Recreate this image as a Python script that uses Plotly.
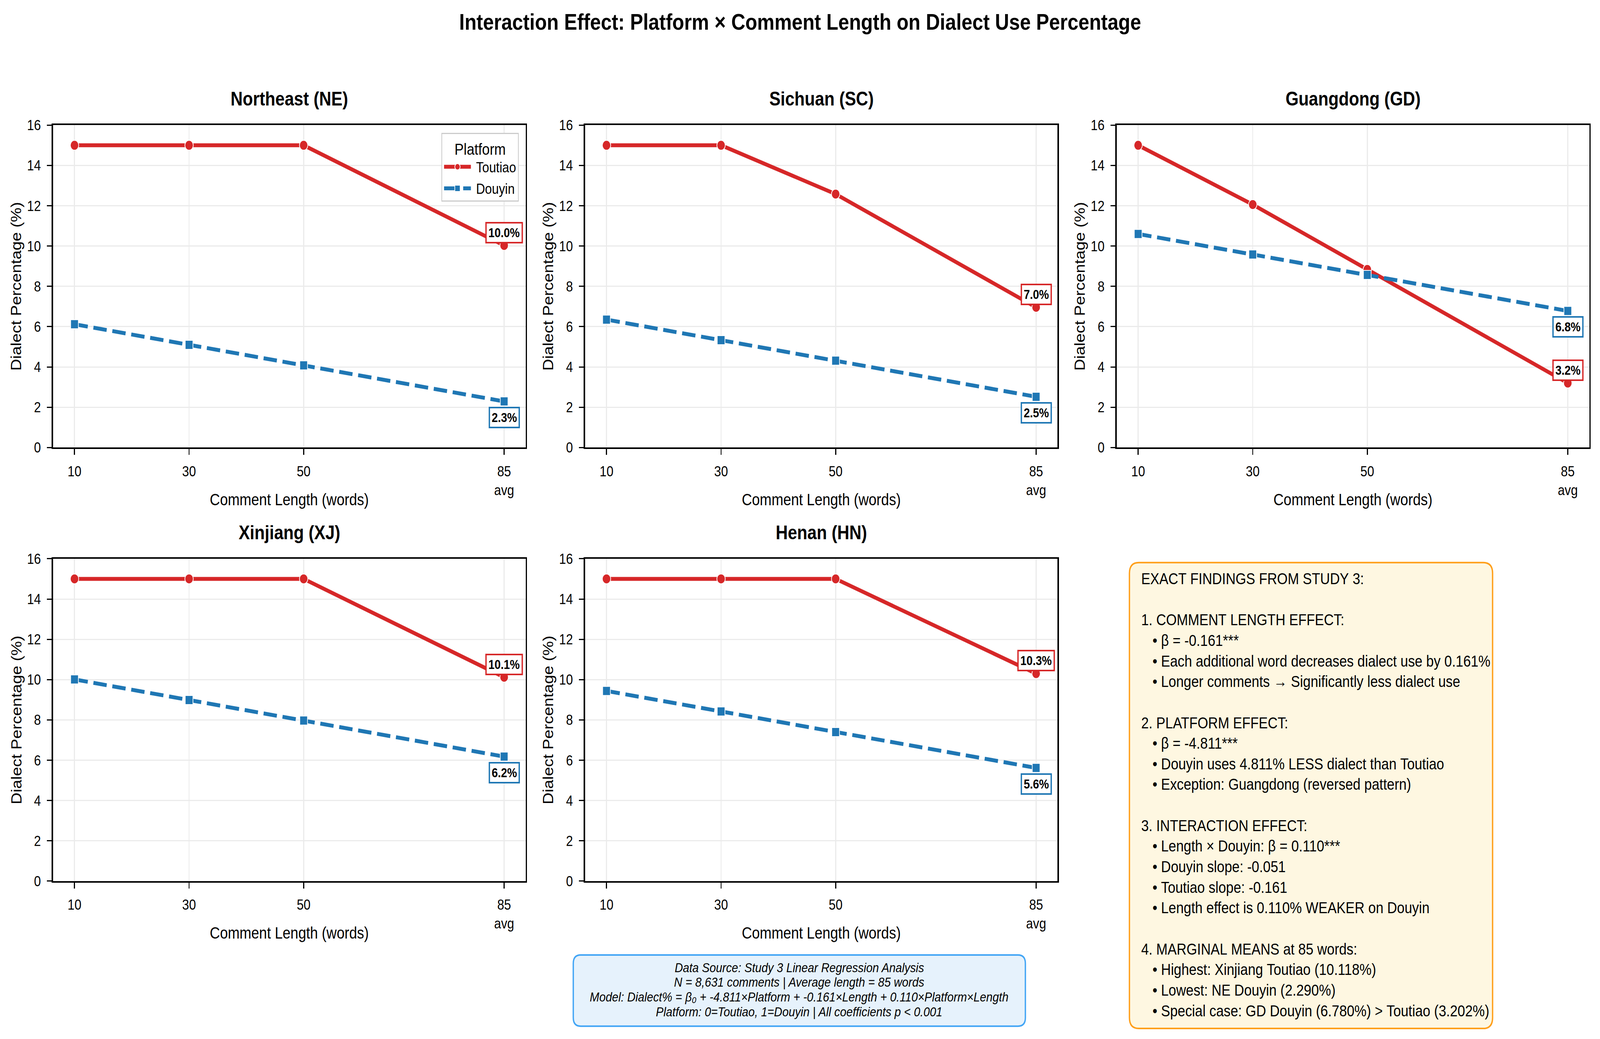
import plotly.graph_objects as go

# Study 3 marginal means
lengths = [10, 30, 50, 85]
tick_text = ["10", "30", "50", "85<br>avg"]
regions = ["Northeast (NE)", "Sichuan (SC)", "Guangdong (GD)", "Xinjiang (XJ)", "Henan (HN)"]

ne_toutiao = [15, 15, 15, 10.03]
ne_douyin = [6.12, 5.10, 4.08, 2.29]
sc_toutiao = [15, 15, 12.58, 6.96]
sc_douyin = [6.35, 5.33, 4.31, 2.52]
gd_toutiao = [15, 12.06, 8.84, 3.20]
gd_douyin = [10.60, 9.58, 8.57, 6.78]
xj_toutiao = [15, 15, 15, 10.12]
xj_douyin = [10.01, 8.99, 7.97, 6.18]
hn_toutiao = [15, 15, 15, 10.30]
hn_douyin = [9.44, 8.42, 7.40, 5.62]

toutiao_all = [ne_toutiao, sc_toutiao, gd_toutiao, xj_toutiao, hn_toutiao]
douyin_all = [ne_douyin, sc_douyin, gd_douyin, xj_douyin, hn_douyin]

findings = [
    "EXACT FINDINGS FROM STUDY 3:",
    "",
    "1. COMMENT LENGTH EFFECT:",
    "   • β = -0.161***",
    "   • Each additional word decreases dialect use by 0.161%",
    "   • Longer comments → Significantly less dialect use",
    "",
    "2. PLATFORM EFFECT:",
    "   • β = -4.811***",
    "   • Douyin uses 4.811% LESS dialect than Toutiao",
    "   • Exception: Guangdong (reversed pattern)",
    "",
    "3. INTERACTION EFFECT:",
    "   • Length × Douyin: β = 0.110***",
    "   • Douyin slope: -0.051",
    "   • Toutiao slope: -0.161",
    "   • Length effect is 0.110% WEAKER on Douyin",
    "",
    "4. MARGINAL MEANS at 85 words:",
    "   • Highest: Xinjiang Toutiao (10.118%)",
    "   • Lowest: NE Douyin (2.290%)",
    "   • Special case: GD Douyin (6.780%) > Toutiao (3.202%)",
]

source_lines = [
    "Data Source: Study 3 Linear Regression Analysis",
    "N = 8,631 comments | Average length = 85 words",
    "Model: Dialect% = β₀ + -4.811×Platform + -0.161×Length + 0.110×Platform×Length",
    "Platform: 0=Toutiao, 1=Douyin | All coefficients p < 0.001",
]

W, H = 4767, 2659
FONT = "Liberation Sans, Arial, sans-serif"
RED = "#d62728"
BLUE = "#1f77b4"


def px_x(v):
    return v / W


def px_y(v):
    return 1 - v / H


# axes boxes in pixels (left, right, top, bottom)
boxes = [
    (158, 1566, 305, 1143),
    (1743, 3151, 305, 1143),
    (3327, 4735, 305, 1143),
    (158, 1566, 1432, 2270),
    (1743, 3151, 1432, 2270),
]

fig = go.Figure()
layout = {}
annotations = []

for i, (name, tt, dy) in enumerate(zip(regions, toutiao_all, douyin_all)):
    n = "" if i == 0 else str(i + 1)
    xa, ya = "x" + n, "y" + n
    fig.add_trace(go.Scatter(
        x=lengths, y=tt, xaxis=xa, yaxis=ya, mode="lines+markers", name="\u00a0Toutiao",
        legendgroup="Toutiao", showlegend=(i == 0),
        line=dict(color=RED, width=10),
        marker=dict(symbol="circle", size=25, color=RED, line=dict(color="white", width=2)),
    ))
    fig.add_trace(go.Scatter(
        x=lengths, y=dy, xaxis=xa, yaxis=ya, mode="lines+markers", name="\u00a0Douyin",
        legendgroup="Douyin", showlegend=(i == 0),
        line=dict(color=BLUE, width=10, dash="40px,17px"),
        marker=dict(symbol="square", size=23, color=BLUE, line=dict(color="white", width=2)),
    ))
    l, r, t, b = boxes[i]
    axis_common = dict(
        ticks="outside", ticklen=15, tickwidth=3, tickcolor="black",
        showline=True, linecolor="black", linewidth=3.5, mirror=True,
        showgrid=True, gridcolor="#ebebeb", gridwidth=2.5, zeroline=False,
        tickfont=dict(size=37, color="black", family=FONT), ticklabelstandoff=10,
    )
    layout["xaxis" + n] = dict(
        domain=[px_x(l), px_x(r)], anchor=ya, range=[6.25, 88.75],
        tickmode="array", tickvals=lengths, ticktext=tick_text, **axis_common)
    layout["yaxis" + n] = dict(
        domain=[px_y(b), px_y(t)], anchor=xa, range=[0, 16], dtick=2, **axis_common)

    cx = (l + r) / 2
    annotations.append(dict(
        text="<b>" + name + "</b>", x=px_x(cx), y=px_y(t - 68), xref="paper", yref="paper",
        showarrow=False, xanchor="center", yanchor="middle",
        font=dict(size=50, color="black", family=FONT)))
    annotations.append(dict(
        text="Dialect Percentage (%)", x=px_x(l - 109), y=px_y((t + b) / 2), xref="paper",
        yref="paper", showarrow=False, textangle=-90, xanchor="center", yanchor="middle",
        font=dict(size=42, color="black", family=FONT)))
    annotations.append(dict(
        text="Comment Length (words)", x=px_x(cx), y=px_y(b + 135), xref="paper",
        yref="paper", showarrow=False, xanchor="center", yanchor="middle",
        font=dict(size=42, color="black", family=FONT)))

    # end-point value labels at the average length
    annotations.append(dict(
        text="<b>%.1f%%</b>" % tt[-1], x=lengths[-1], y=tt[-1], xref=xa, yref=ya,
        showarrow=False, yshift=33, bgcolor="white", bordercolor=RED, borderwidth=4,
        borderpad=5, font=dict(size=33, color="black", family=FONT)))
    annotations.append(dict(
        text="<b>%.1f%%</b>" % dy[-1], x=lengths[-1], y=dy[-1], xref=xa, yref=ya,
        showarrow=False, yshift=-41, bgcolor="white", bordercolor=BLUE, borderwidth=4,
        borderpad=5, font=dict(size=33, color="black", family=FONT)))

annotations.append(dict(
    text="<b>Interaction Effect: Platform × Comment Length on Dialect Use Percentage</b>",
    x=0.5, y=px_y(36), xref="paper", yref="paper", showarrow=False,
    xanchor="center", yanchor="middle", font=dict(size=58, color="black", family=FONT)))

annotations.append(dict(
    text="<br>".join(s.replace(" ", "\u00a0") for s in findings),
    x=px_x(3398), y=px_y(1458), xref="paper", yref="paper", showarrow=False,
    xanchor="left", yanchor="top", align="left",
    font=dict(size=40.5, color="black", family=FONT)))

for k, line in enumerate(source_lines):
    annotations.append(dict(
        text="<i>" + line + "</i>", x=px_x(2381), y=px_y(2494 + 38.5 * k),
        xref="paper", yref="paper", showarrow=False, xanchor="center", yanchor="middle",
        font=dict(size=34, color="black", family=FONT)))


def rounded_box(x0, y0, x1, y1, r):
    # pixel box -> path in paper coords with rounded corners
    rx, ry = r / W, r / H
    a, b_, c, d = px_x(x0), px_y(y1), px_x(x1), px_y(y0)
    return (f"M {a + rx},{b_} L {c - rx},{b_} Q {c},{b_} {c},{b_ + ry} "
            f"L {c},{d - ry} Q {c},{d} {c - rx},{d} L {a + rx},{d} Q {a},{d} {a},{d - ry} "
            f"L {a},{b_ + ry} Q {a},{b_} {a + rx},{b_} Z")


shapes = [
    dict(type="path", xref="paper", yref="paper", path=rounded_box(3365, 1442, 4447, 2653, 28),
         fillcolor="#fef7e1", line=dict(color="#ff9f1a", width=4)),
    dict(type="path", xref="paper", yref="paper", path=rounded_box(1708, 2462, 3055, 2647, 22),
         fillcolor="#e6f2fc", line=dict(color="#42a5f5", width=4)),
]

fig.update_layout(
    width=W, height=H, margin=dict(l=0, r=0, t=0, b=0),
    paper_bgcolor="white", plot_bgcolor="white",
    font=dict(family=FONT, color="black"),
    annotations=annotations, shapes=shapes,
    legend=dict(
        x=px_x(1546), y=px_y(325), xanchor="right", yanchor="top",
        bgcolor="white", bordercolor="#cccccc", borderwidth=3,
        title=dict(text="Platform", side="top center", font=dict(size=41, family=FONT)),
        font=dict(size=37, family=FONT), itemwidth=80, tracegroupgap=4,
    ),
    **layout,
)

# stretch the fixed-size figure over the browser viewport
fit_js = """
var gd = document.getElementById('{plot_id}');
document.body.style.margin = '0';
document.documentElement.style.overflow = 'hidden';
var sx = document.documentElement.clientWidth / %d;
var sy = document.documentElement.clientHeight / %d;
gd.style.transformOrigin = '0 0';
gd.style.transform = 'scale(' + sx + ',' + sy + ')';
gd.parentElement.style.height = (%d * sy) + 'px';
gd.parentElement.style.overflow = 'hidden';
""" % (W, H, H)

fig.write_html("out.html", post_script=fit_js, config={"displayModeBar": False})
